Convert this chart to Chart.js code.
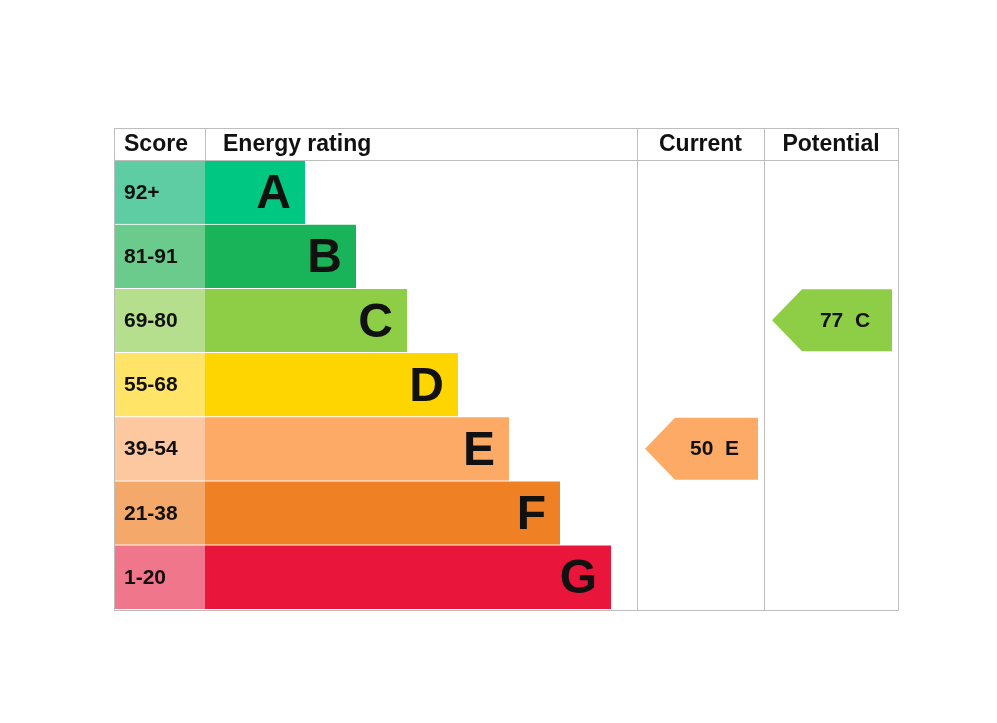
<!DOCTYPE html>
<html>
<head>
<meta charset="utf-8">
<style>
  body { margin: 0; background: #fff; }
  canvas { display: block; }
</style>
<script src="https://cdn.jsdelivr.net/npm/chart.js@4/dist/chart.umd.min.js"></script>
</head>
<body>
<canvas id="epc" width="997" height="723"></canvas>
<script>
// EPC rating chart data
const bands = ['A', 'B', 'C', 'D', 'E', 'F', 'G'];
const scoreLabels = ['92+', '81-91', '69-80', '55-68', '39-54', '21-38', '1-20'];
const barLengths = [100, 151, 202, 253, 304, 355, 406];
const bandColors = ['#00c781', '#19b459', '#8dce46', '#ffd500', '#fcaa65', '#ef8023', '#e9153b'];
const scoreColors = ['#5fcda3', '#6bcb8c', '#b5df8c', '#ffe468', '#fdc8a0', '#f4a96b', '#f0768b'];
const currentScore = 50, currentBand = 'E';
const potentialScore = 77, potentialBand = 'C';

const SCORE_W = 91;          // width of score column in x units
const COL_CURRENT = 523;     // start of Current column (x units)
const COL_POTENTIAL = 650;   // start of Potential column
const X_MAX = 784;

const gridPlugin = {
  id: 'epcGrid',
  afterDatasetsDraw(chart) {
    const { ctx, chartArea, scales: { x, y } } = chart;
    const top = chartArea.top - 32, bottom = chartArea.bottom + 1;
    const xCur = x.getPixelForValue(COL_CURRENT), xPot = x.getPixelForValue(COL_POTENTIAL);
    const xScore = x.getPixelForValue(SCORE_W);
    ctx.save();
    ctx.strokeStyle = '#bdbdbd';
    ctx.lineWidth = 1;
    ctx.strokeRect(chartArea.left + 0.5, top + 0.5, chartArea.right - chartArea.left, bottom - top);
    ctx.beginPath();
    ctx.moveTo(chartArea.left, chartArea.top + 0.5); ctx.lineTo(chartArea.right, chartArea.top + 0.5);
    ctx.moveTo(xScore + 0.5, top); ctx.lineTo(xScore + 0.5, chartArea.top);
    ctx.moveTo(xCur + 0.5, top); ctx.lineTo(xCur + 0.5, bottom);
    ctx.moveTo(xPot + 0.5, top); ctx.lineTo(xPot + 0.5, bottom);
    ctx.stroke();

    // headers
    ctx.fillStyle = '#111';
    ctx.font = 'bold 23px "Liberation Sans", Arial, sans-serif';
    ctx.textBaseline = 'middle';
    const hy = top + 17;
    ctx.textAlign = 'left';
    ctx.fillText('Score', chartArea.left + 10, hy);
    ctx.fillText('Energy rating', xScore + 18, hy);
    ctx.textAlign = 'center';
    ctx.fillText('Current', (xCur + xPot) / 2, hy);
    ctx.fillText('Potential', (xPot + chartArea.right) / 2, hy);

    // score labels and band letters
    bands.forEach((b, i) => {
      const cy = y.getPixelForValue(i);
      ctx.textAlign = 'left';
      ctx.font = 'bold 21px "Liberation Sans", Arial, sans-serif';
      ctx.fillStyle = '#111';
      ctx.fillText(scoreLabels[i], chartArea.left + 10, cy + 1);
      ctx.textAlign = 'right';
      ctx.font = 'bold 48px "Liberation Sans", Arial, sans-serif';
      ctx.fillText(b, x.getPixelForValue(SCORE_W + barLengths[i]) - 14, cy + 3);
    });

    // arrows
    const drawArrow = (score, band, colStart, colEnd) => {
      const i = bands.indexOf(band);
      const cy = y.getPixelForValue(i);
      const h = 62;
      const x0 = x.getPixelForValue(colStart) + 8, x1 = x.getPixelForValue(colEnd) - 6;
      ctx.fillStyle = bandColors[i];
      ctx.beginPath();
      ctx.moveTo(x0, cy);
      ctx.lineTo(x0 + 30, cy - h / 2);
      ctx.lineTo(x1, cy - h / 2);
      ctx.lineTo(x1, cy + h / 2);
      ctx.lineTo(x0 + 30, cy + h / 2);
      ctx.closePath();
      ctx.fill();
      ctx.fillStyle = '#111';
      ctx.font = 'bold 21px "Liberation Sans", Arial, sans-serif';
      ctx.textAlign = 'center';
      ctx.fillText(score + '  ' + band, (x0 + 30 + x1) / 2 - 2, cy + 1);
    };
    drawArrow(currentScore, currentBand, COL_CURRENT, COL_POTENTIAL);
    drawArrow(potentialScore, potentialBand, COL_POTENTIAL, X_MAX);
    ctx.restore();
  }
};

new Chart(document.getElementById('epc'), {
  type: 'bar',
  data: {
    labels: bands,
    datasets: [
      {
        data: bands.map(() => [0, SCORE_W]),
        backgroundColor: scoreColors,
        barPercentage: 1, categoryPercentage: 1,
        borderColor: '#fff', borderWidth: { top: 1, bottom: 0, left: 0, right: 0 }, borderSkipped: false
      },
      {
        data: barLengths.map(l => [SCORE_W, SCORE_W + l]),
        backgroundColor: bandColors,
        barPercentage: 1, categoryPercentage: 1,
        borderColor: '#fff', borderWidth: { top: 1, bottom: 0, left: 0, right: 0 }, borderSkipped: false
      }
    ]
  },
  options: {
    indexAxis: 'y',
    responsive: false,
    animation: false,
    layout: { padding: { left: 114, right: 99, top: 160, bottom: 114 } },
    scales: {
      x: { display: false, min: 0, max: X_MAX },
      y: { display: false, stacked: true }
    },
    plugins: { legend: { display: false }, tooltip: { enabled: false } }
  },
  plugins: [gridPlugin]
});
</script>
</body>
</html>
